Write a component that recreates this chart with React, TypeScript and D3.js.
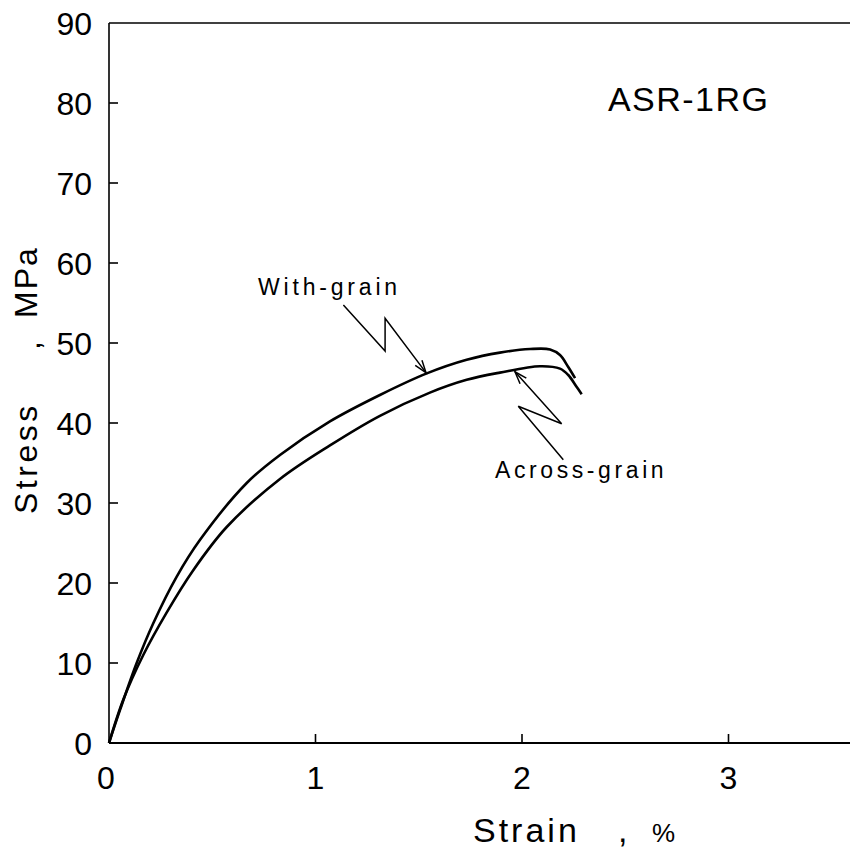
import React, { useEffect, useRef } from 'react';
import * as d3 from 'd3';

// stress-strain curves (strain %, stress MPa)
const strainWith = [0, 0.053, 0.134, 0.215, 0.328, 0.441, 0.667, 0.828, 1.07, 1.312, 1.539, 1.732, 1.893, 2.039, 2.136, 2.184, 2.224, 2.257];
const stressWith = [0, 4.1, 10.0, 15.0, 20.8, 25.4, 32.5, 36.0, 40.2, 43.5, 46.2, 47.9, 48.8, 49.25, 49.2, 48.5, 47.0, 45.6];

const strainAcross = [0, 0.069, 0.166, 0.279, 0.408, 0.57, 0.828, 1.07, 1.312, 1.554, 1.732, 1.893, 2.087, 2.184, 2.224, 2.265, 2.289];
const stressAcross = [0, 5.4, 11.0, 16.3, 21.6, 27.0, 33.0, 37.2, 40.9, 43.8, 45.4, 46.3, 47.1, 46.8, 46.0, 44.5, 43.6];

const xTicks = [0, 1, 2, 3];
const yTicks = [0, 10, 20, 30, 40, 50, 60, 70, 80, 90];

// zig-zag leader lines (data units), last point is the arrow tip
const withArrow: [number, number][] = [[1.135, 54.75], [1.337, 49.0], [1.337, 53.1], [1.535, 46.3]];
const acrossArrow: [number, number][] = [[2.2, 35.4], [1.982, 42.1], [2.192, 39.9], [1.966, 46.4]];

const FONT = '"Liberation Sans", Arial, sans-serif';

const App = () => {
  const ref = useRef<SVGSVGElement>(null);

  useEffect(() => {
    const width = 850, height = 853;
    const svg = d3.select(ref.current);
    svg.selectAll('*').remove();

    const x = d3.scaleLinear().domain([0, 3]).range([109, 728.5]);
    const y = d3.scaleLinear().domain([0, 90]).range([743, 23]);

    const g = svg.append('g');

    // frame: left, top and bottom (right edge is off the page)
    g.append('line').attr('x1', x(0)).attr('x2', x(0)).attr('y1', y(90)).attr('y2', y(0))
      .attr('stroke', '#000').attr('stroke-width', 1.6);
    g.append('line').attr('x1', x(0)).attr('x2', width).attr('y1', y(90)).attr('y2', y(90))
      .attr('stroke', '#000').attr('stroke-width', 1.6);
    g.append('line').attr('x1', x(0)).attr('x2', width).attr('y1', y(0)).attr('y2', y(0))
      .attr('stroke', '#000').attr('stroke-width', 2.2);

    // y ticks (inward)
    g.selectAll('line.ytick').data(yTicks.filter(d => d > 0 && d < 90)).enter().append('line')
      .attr('class', 'ytick')
      .attr('x1', x(0)).attr('x2', x(0) + 9)
      .attr('y1', d => y(d)).attr('y2', d => y(d))
      .attr('stroke', '#000').attr('stroke-width', 1.6);

    g.selectAll('text.ylab').data(yTicks).enter().append('text')
      .attr('class', 'ylab')
      .attr('x', 92).attr('y', d => y(d))
      .attr('dy', '0.36em')
      .attr('text-anchor', 'end')
      .style('font-family', FONT).style('font-size', '32px')
      .text(d => d);

    // x ticks (inward)
    g.selectAll('line.xtick').data(xTicks.filter(d => d > 0)).enter().append('line')
      .attr('class', 'xtick')
      .attr('x1', d => x(d)).attr('x2', d => x(d))
      .attr('y1', y(0)).attr('y2', y(0) - 9)
      .attr('stroke', '#000').attr('stroke-width', 1.6);

    g.selectAll('text.xlab').data(xTicks).enter().append('text')
      .attr('class', 'xlab')
      .attr('x', d => x(d) - (d === 0 ? 3 : 0)).attr('y', y(0) + 34)
      .attr('dy', '0.36em')
      .attr('text-anchor', 'middle')
      .style('font-family', FONT).style('font-size', '32px')
      .text(d => d);

    // axis titles
    const xt = g.append('g').style('font-family', FONT).style('font-size', '34px');
    xt.append('text').attr('x', 473).attr('y', 842).style('letter-spacing', '3px').text('Strain');
    xt.append('text').attr('x', 618).attr('y', 842).text(',');
    xt.append('text').attr('x', 652).attr('y', 842).style('font-size', '26px').text('%');

    const yt = g.append('g').style('font-family', FONT).style('font-size', '32px');
    yt.append('text').attr('transform', 'translate(37,514) rotate(-90)')
      .style('letter-spacing', '3.5px').text('Stress');
    yt.append('text').attr('transform', 'translate(40,350) rotate(-90)').text(',');
    yt.append('text').attr('transform', 'translate(37,318) rotate(-90)')
      .style('letter-spacing', '2px').text('MPa');

    // curves
    const line = d3.line<[number, number]>()
      .x(d => x(d[0])).y(d => y(d[1]))
      .curve(d3.curveCatmullRom.alpha(0.5));

    const withPts = strainWith.map((s, i) => [s, stressWith[i]] as [number, number]);
    const acrossPts = strainAcross.map((s, i) => [s, stressAcross[i]] as [number, number]);

    g.append('path').attr('d', line(withPts)).attr('fill', 'none')
      .attr('stroke', '#000').attr('stroke-width', 2.6);
    g.append('path').attr('d', line(acrossPts)).attr('fill', 'none')
      .attr('stroke', '#000').attr('stroke-width', 2.6);

    // leaders with open arrowheads
    const leader = d3.line<[number, number]>().x(d => x(d[0])).y(d => y(d[1]));
    [withArrow, acrossArrow].forEach(pts => {
      g.append('path').attr('d', leader(pts)).attr('fill', 'none')
        .attr('stroke', '#000').attr('stroke-width', 1.5);
      const [px, py] = [x(pts[pts.length - 2][0]), y(pts[pts.length - 2][1])];
      const [tx, ty] = [x(pts[pts.length - 1][0]), y(pts[pts.length - 1][1])];
      const ang = Math.atan2(ty - py, tx - px);
      const len = 13, spread = 0.33;
      const barbs = [ang + Math.PI - spread, ang + Math.PI + spread].map(a =>
        [tx + len * Math.cos(a), ty + len * Math.sin(a)]);
      g.append('path')
        .attr('d', `M${barbs[0][0]},${barbs[0][1]}L${tx},${ty}L${barbs[1][0]},${barbs[1][1]}`)
        .attr('fill', 'none').attr('stroke', '#000').attr('stroke-width', 1.5);
    });

    // labels
    const lab = g.append('g').style('font-family', FONT);
    lab.append('text').attr('x', x(0.722)).attr('y', y(56.0))
      .style('font-size', '23px').style('letter-spacing', '3.8px').text('With-grain');
    lab.append('text').attr('x', x(1.869)).attr('y', y(33.1))
      .style('font-size', '23px').style('letter-spacing', '3.6px').text('Across-grain');
    lab.append('text').attr('x', x(2.416)).attr('y', y(79.0))
      .style('font-size', '34px').style('letter-spacing', '1.5px').text('ASR-1RG');

    svg.attr('width', width).attr('height', height);
  }, []);

  return (
    <svg ref={ref} width={850} height={853}
      style={{ position: 'absolute', left: 0, top: 0, background: '#fff' }} />
  );
};

export default App;
